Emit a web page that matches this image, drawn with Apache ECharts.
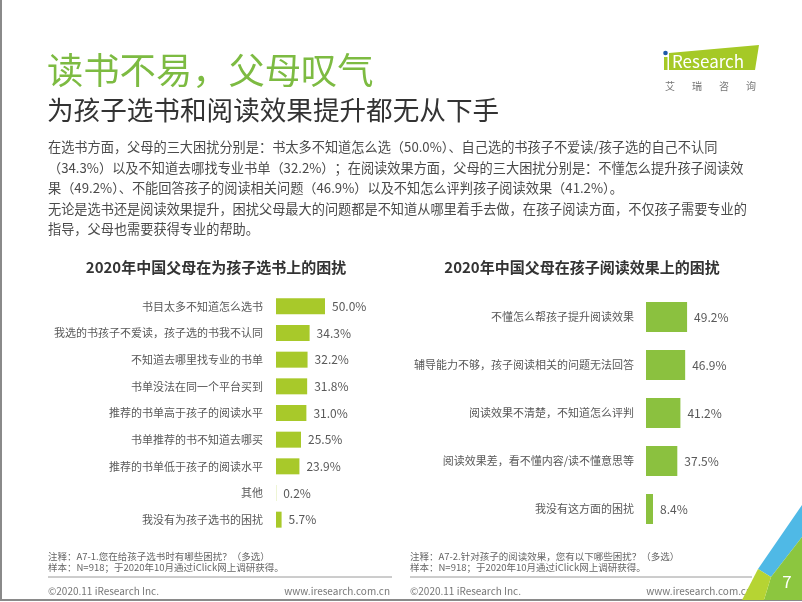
<!DOCTYPE html>
<html><head><meta charset="utf-8">
<script src="https://cdn.jsdelivr.net/npm/echarts@6/dist/echarts.min.js"></script>
<style>html,body{margin:0;padding:0;background:#fff}#c{width:802px;height:602px}</style>
</head><body><div id="c"></div>
<script>
const titleMain = '读书不易，父母叹气';
const titleSub = '为孩子选书和阅读效果提升都无从下手';
const paraLines = [
  '在选书方面，父母的三大困扰分别是：书太多不知道怎么选（50.0%）、自己选的书孩子不爱读/孩子选的自己不认同',
  '（34.3%）以及不知道去哪找专业书单（32.2%）；在阅读效果方面，父母的三大困扰分别是：不懂怎么提升孩子阅读效',
  '果（49.2%）、不能回答孩子的阅读相关问题（46.9%）以及不知怎么评判孩子阅读效果（41.2%）。',
  '无论是选书还是阅读效果提升，困扰父母最大的问题都是不知道从哪里着手去做，在孩子阅读方面，不仅孩子需要专业的',
  '指导，父母也需要获得专业的帮助。'
];
const chart1Title = '2020年中国父母在为孩子选书上的困扰';
const chart2Title = '2020年中国父母在孩子阅读效果上的困扰';
const cat1 = ['书目太多不知道怎么选书','我选的书孩子不爱读，孩子选的书我不认同','不知道去哪里找专业的书单','书单没法在同一个平台买到','推荐的书单高于孩子的阅读水平','书单推荐的书不知道去哪买','推荐的书单低于孩子的阅读水平','其他','我没有为孩子选书的困扰'];
const val1 = [50.0,34.3,32.2,31.8,31.0,25.5,23.9,0.2,5.7];
const cat2 = ['不懂怎么帮孩子提升阅读效果','辅导能力不够，孩子阅读相关的问题无法回答','阅读效果不清楚，不知道怎么评判','阅读效果差，看不懂内容/读不懂意思等','我没有这方面的困扰'];
const val2 = [49.2,46.9,41.2,37.5,8.4];
const note1 = ['注释：A7-1.您在给孩子选书时有哪些困扰？（多选）','样本：N=918；于2020年10月通过iClick网上调研获得。'];
const note2 = ['注释：A7-2.针对孩子的阅读效果，您有以下哪些困扰？（多选）','样本：N=918；于2020年10月通过iClick网上调研获得。'];
const copyright = '©2020.11 iResearch Inc.';
const website = 'www.iresearch.com.cn';
const pageNo = '7';
const logoChars = ['艾','瑞','咨','询'];

const FF = '"Noto Sans CJK SC","Noto Sans",sans-serif';
function txt(x, y, text, size, color, align, weight) {
  return {type:'text', x:x, y:y, silent:true, style:{text:text, fill:color, font:(weight||'normal')+' '+size+'px '+FF, align:align||'left', verticalAlign:'middle'}};
}
const g = [];
g.push(txt(47, 70, titleMain, 36.3, '#7dbb42'));
g.push(txt(47, 110, titleSub, 26.6, '#333333'));
const paraY = [147,168,188,209,229];
paraLines.forEach((l,i)=>g.push(txt(48, paraY[i], l, 13.2, '#4a4a4a')));
g.push(txt(216, 267, chart1Title, 15, '#333333', 'center', 'bold'));
g.push(txt(582, 267, chart2Title, 15, '#333333', 'center', 'bold'));
note1.forEach((l,i)=>g.push(txt(48, 556+i*11, l, 9.5, '#666666')));
note2.forEach((l,i)=>g.push(txt(410, 556+i*11, l, 9.5, '#666666')));
g.push({type:'line', silent:true, shape:{x1:48,y1:577,x2:392,y2:577}, style:{stroke:'#9a9a9a', lineWidth:1}});
g.push({type:'line', silent:true, shape:{x1:410,y1:577,x2:752,y2:577}, style:{stroke:'#9a9a9a', lineWidth:1}});
g.push(txt(48, 591, copyright, 10, '#777777'));
g.push(txt(390, 591, website, 10, '#777777', 'right'));
g.push(txt(410, 591, copyright, 10, '#777777'));
g.push(txt(752, 591, website, 10, '#777777', 'right'));
// page border
g.push({type:'line', silent:true, shape:{x1:1,y1:0,x2:1,y2:600}, style:{stroke:'#8a8a8a', lineWidth:2}});
g.push({type:'line', silent:true, shape:{x1:0,y1:600,x2:802,y2:600}, style:{stroke:'#8a8a8a', lineWidth:2}});
// corner decoration
g.push({type:'polygon', silent:true, shape:{points:[[802,505],[758,569],[771,577],[802,537]]}, style:{fill:'#4fb9e6'}});
g.push({type:'polygon', silent:true, shape:{points:[[771,577],[802,537],[802,600],[764,600]]}, style:{fill:'#8cc63f'}});
g.push({type:'polygon', silent:true, shape:{points:[[758,569],[771,577],[764,600],[742,600]]}, style:{fill:'#b6d433'}});
g.push(txt(787, 582, pageNo, 17, '#ffffff', 'center'));
// logo
g.push({type:'circle', silent:true, shape:{cx:665.5,cy:53,r:2.3}, style:{fill:'#1f5aa8'}});
g.push({type:'rect', silent:true, shape:{x:664,y:57,width:3.5,height:13}, style:{fill:'#a5c926'}});
g.push({type:'polygon', silent:true, shape:{points:[[669,53],[759,45],[755,70],[669,70]]}, style:{fill:'#a5c926'}});
g.push(txt(672, 62, 'Research', 17, '#ffffff'));
logoChars.forEach((c,i)=>g.push(txt(670 + i*27, 86, c, 10, '#777777', 'center')));

const lblStyle = {color:'#595959', fontSize:11, fontFamily:FF};
const option = {
  animation:false,
  backgroundColor:'#ffffff',
  grid:[
    {left:276, top:293, width:98, height:240},
    {left:646, top:293, width:83.5, height:240}
  ],
  xAxis:[
    {gridIndex:0, type:'value', min:0, max:100, show:false},
    {gridIndex:1, type:'value', min:0, max:100, show:false}
  ],
  yAxis:[
    {gridIndex:0, type:'category', data:cat1, inverse:true, axisLine:{show:false}, axisTick:{show:false}, axisLabel:Object.assign({margin:13}, lblStyle)},
    {gridIndex:1, type:'category', data:cat2, inverse:true, axisLine:{show:false}, axisTick:{show:false}, axisLabel:Object.assign({margin:12}, lblStyle)}
  ],
  series:[
    {type:'bar', xAxisIndex:0, yAxisIndex:0, data:val1, barWidth:16, itemStyle:{color:'#a8c92a'},
     label:{show:true, position:'right', distance:7, color:'#595959', fontSize:12, fontFamily:FF, formatter:p=>p.value.toFixed(1)+'%'}},
    {type:'bar', xAxisIndex:1, yAxisIndex:1, data:val2, barWidth:30, itemStyle:{color:'#8bc13f'},
     label:{show:true, position:'right', distance:7, color:'#595959', fontSize:12, fontFamily:FF, formatter:p=>p.value.toFixed(1)+'%'}}
  ],
  graphic:g
};
const ch = echarts.init(document.getElementById('c'), null, {renderer:'canvas'});
ch.setOption(option);
</script></body></html>
